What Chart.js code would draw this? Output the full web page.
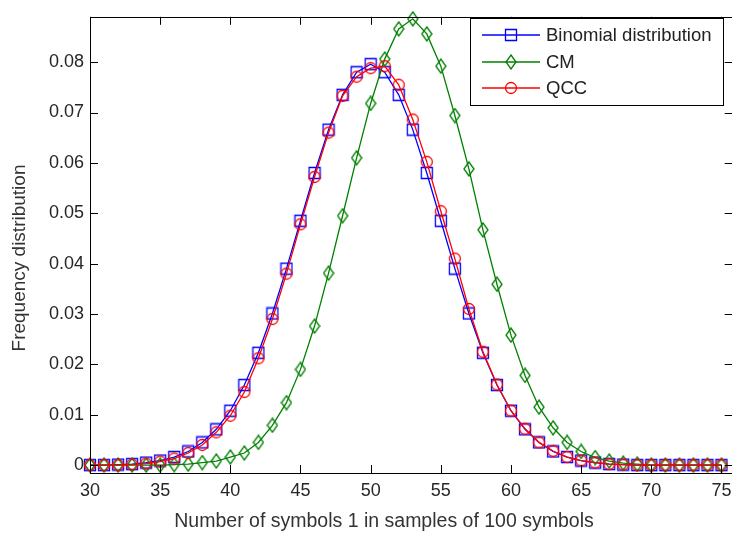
<!DOCTYPE html>
<html>
<head>
<meta charset="utf-8">
<script src="https://cdn.jsdelivr.net/npm/chart.js@4.4.1/dist/chart.umd.min.js"></script>
<style>
  html, body { margin: 0; padding: 0; background: #fff; overflow: hidden; }
  #wrap { width: 732px; height: 535px; overflow: hidden; }
  canvas { display: block; }
</style>
</head>
<body>
<div id="wrap"><canvas id="chart" width="740" height="535"></canvas></div>
<script>
// number of "1" symbols per sample of 100
const symbols = [30, 31, 32, 33, 34, 35, 36, 37, 38, 39, 40, 41, 42, 43, 44, 45,
  46, 47, 48, 49, 50, 51, 52, 53, 54, 55, 56, 57, 58, 59, 60, 61, 62, 63, 64, 65,
  66, 67, 68, 69, 70, 71, 72, 73, 74, 75];

const binomial = [0.0000, 0.0000, 0.0001, 0.0002, 0.0005, 0.0009, 0.0016, 0.0027,
  0.0045, 0.0071, 0.0108, 0.0159, 0.0223, 0.0301, 0.0390, 0.0485, 0.0580, 0.0666,
  0.0735, 0.0780, 0.0796, 0.0780, 0.0735, 0.0666, 0.0580, 0.0485, 0.0390, 0.0301,
  0.0223, 0.0159, 0.0108, 0.0071, 0.0045, 0.0027, 0.0016, 0.0009, 0.0005, 0.0002,
  0.0001, 0.0000, 0.0000, 0.0000, 0.0000, 0.0000, 0.0000, 0.0000];

const cm = [0.0000, 0.0000, 0.0000, 0.0000, 0.0000, 0.0000, 0.0001, 0.0002,
  0.0005, 0.0008, 0.0016, 0.0024, 0.0045, 0.0079, 0.0124, 0.0190, 0.0276, 0.0381,
  0.0495, 0.0610, 0.0718, 0.0806, 0.0866, 0.0886, 0.0856, 0.0792, 0.0694, 0.0588,
  0.0467, 0.0359, 0.0258, 0.0178, 0.0115, 0.0074, 0.0045, 0.0027, 0.0015, 0.0008,
  0.0004, 0.0002, 0.0000, 0.0000, 0.0000, 0.0000, 0.0000, 0.0000];

const qcc = [0.0000, 0.0000, 0.0000, 0.0001, 0.0003, 0.0007, 0.0013, 0.0024,
  0.0040, 0.0065, 0.0098, 0.0145, 0.0212, 0.0290, 0.0380, 0.0478, 0.0572, 0.0660,
  0.0733, 0.0771, 0.0788, 0.0792, 0.0755, 0.0686, 0.0602, 0.0504, 0.0410, 0.0310,
  0.0225, 0.0160, 0.0108, 0.0072, 0.0045, 0.0028, 0.0016, 0.0009, 0.0005, 0.0002,
  0.0001, 0.0000, 0.0000, 0.0000, 0.0000, 0.0000, 0.0000, 0.0000];

const seriesNames = ["Binomial distribution", "CM", "QCC"];
const seriesColors = ["#0000ff", "#008000", "#ff0000"];
const xTicks = [30, 35, 40, 45, 50, 55, 60, 65, 70, 75];
const yTicks = [0, 0.01, 0.02, 0.03, 0.04, 0.05, 0.06, 0.07, 0.08];
const xTitle = "Number of symbols 1 in samples of 100 symbols";
const yTitle = "Frequency distribution";

const FONT = '"Liberation Sans", Arial, sans-serif';

function markerCanvas(kind, color) {
  const c = document.createElement("canvas");
  const w = kind === "diamond" ? 12 : 14;
  const h = kind === "diamond" ? 16 : 14;
  c.width = w;
  c.height = h;
  const ctx = c.getContext("2d");
  ctx.strokeStyle = color;
  ctx.lineWidth = 1.3;
  ctx.beginPath();
  if (kind === "square") {
    ctx.rect(1.5, 1.5, 11, 11);
  } else if (kind === "diamond") {
    ctx.moveTo(6, 1);
    ctx.lineTo(11, 8);
    ctx.lineTo(6, 15);
    ctx.lineTo(1, 8);
    ctx.closePath();
  } else {
    ctx.arc(7, 7, 5.5, 0, Math.PI * 2);
  }
  ctx.stroke();
  return c;
}

const markers = [
  markerCanvas("square", seriesColors[0]),
  markerCanvas("diamond", seriesColors[1]),
  markerCanvas("circle", seriesColors[2]),
];

function points(values) {
  return symbols.map((s, i) => ({ x: s, y: values[i] }));
}

// inward ticks, box, legend and axis titles, MATLAB style
const matlabFrame = {
  id: "matlabFrame",
  afterDraw(chart) {
    const { ctx, chartArea: a, scales } = chart;
    const len = 8;
    ctx.save();
    ctx.strokeStyle = "#000";
    ctx.lineWidth = 1;
    ctx.strokeRect(Math.round(a.left) + 0.5, Math.round(a.top) + 0.5,
      Math.round(a.right - a.left), Math.round(a.bottom - a.top));
    ctx.beginPath();
    xTicks.forEach((v) => {
      const px = Math.round(scales.x.getPixelForValue(v)) + 0.5;
      ctx.moveTo(px, a.bottom);
      ctx.lineTo(px, a.bottom - len);
      ctx.moveTo(px, a.top);
      ctx.lineTo(px, a.top + len);
    });
    yTicks.forEach((v) => {
      const py = Math.round(scales.y.getPixelForValue(v)) + 0.5;
      ctx.moveTo(a.left, py);
      ctx.lineTo(a.left + len, py);
      ctx.moveTo(a.right, py);
      ctx.lineTo(a.right - len, py);
    });
    ctx.stroke();

    // legend
    const lx = 470, ly = 18, lw = 253, lh = 87;
    ctx.fillStyle = "#fff";
    ctx.fillRect(lx, ly, lw, lh);
    ctx.strokeRect(lx + 0.5, ly + 0.5, lw, lh);
    ctx.font = "18.5px " + FONT;
    ctx.textBaseline = "middle";
    ctx.textAlign = "left";
    const rows = [35, 62, 88];
    seriesNames.forEach((name, i) => {
      const y = rows[i];
      ctx.strokeStyle = seriesColors[i];
      ctx.lineWidth = 1.3;
      ctx.beginPath();
      ctx.moveTo(482, y);
      ctx.lineTo(540, y);
      ctx.stroke();
      const m = markers[i];
      ctx.drawImage(m, 511 - m.width / 2, y - m.height / 2);
      ctx.fillStyle = "#222";
      ctx.fillText(name, 546, y + 1);
    });

    // axis titles
    ctx.fillStyle = "#333";
    ctx.font = "19.5px " + FONT;
    ctx.textAlign = "center";
    ctx.fillText(xTitle, 384, 522);
    ctx.font = "19px " + FONT;
    ctx.translate(20, 258);
    ctx.rotate(-Math.PI / 2);
    ctx.fillText(yTitle, 0, 0);
    ctx.restore();
  },
};

new Chart(document.getElementById("chart"), {
  type: "line",
  data: {
    datasets: [0, 1, 2].map((i) => ({
      label: seriesNames[i],
      data: points([binomial, cm, qcc][i]),
      borderColor: seriesColors[i],
      backgroundColor: seriesColors[i],
      borderWidth: 1.3,
      pointStyle: markers[i],
      pointRadius: 6,
      pointHoverRadius: 6,
      tension: 0,
      clip: false,
      order: 3 - i,
    })),
  },
  options: {
    responsive: false,
    animation: false,
    events: [],
    layout: { padding: { top: 11, right: 6, left: 0, bottom: 0 } },
    plugins: {
      legend: { display: false },
      tooltip: { enabled: false },
    },
    scales: {
      x: {
        type: "linear",
        min: 30,
        max: 75.8,
        grid: { display: false, drawTicks: false, tickLength: 0 },
        border: { display: false },
        afterBuildTicks: (s) => { s.ticks = xTicks.map((v) => ({ value: v })); },
        afterFit: (s) => { s.height = 62; },
        ticks: {
          color: "#262626",
          font: { family: FONT, size: 18 },
          padding: 7,
          maxRotation: 0,
          callback: (v) => String(v),
        },
      },
      y: {
        min: -0.00157,
        max: 0.089,
        grid: { display: false, drawTicks: false, tickLength: 0 },
        border: { display: false },
        afterBuildTicks: (s) => { s.ticks = yTicks.map((v) => ({ value: v })); },
        afterFit: (s) => { s.width = 90; },
        ticks: {
          color: "#262626",
          font: { family: FONT, size: 18 },
          padding: 6,
          callback: (v) => (v === 0 ? "0" : v.toFixed(2)),
        },
      },
    },
  },
  plugins: [matlabFrame],
});
</script>
</body>
</html>
